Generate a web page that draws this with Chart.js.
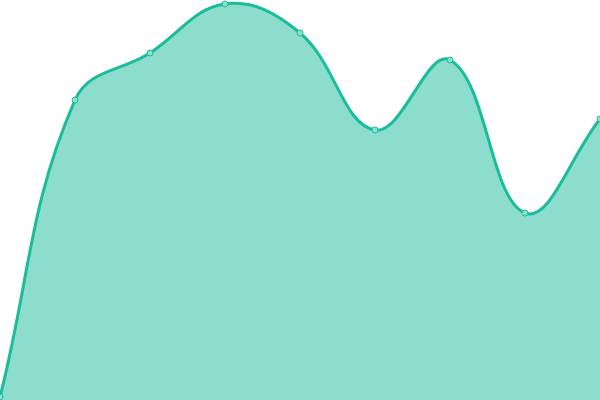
<!DOCTYPE html>
<html><head><meta charset="utf-8">
<script src="https://cdn.jsdelivr.net/npm/chart.js@4"></script>
<style>html,body{margin:0;padding:0;background:#fff}#wrap{width:600px;height:400px}</style>
</head><body><div id="wrap"><canvas id="c"></canvas></div>
<script>
const labels = ["1","2","3","4","5","6","7","8","9"];
const values = [3, 300, 347, 396, 367, 270, 340, 187, 281];
new Chart(document.getElementById('c'), {
  type: 'line',
  data: { labels: labels, datasets: [{
    data: values,
    fill: true,
    tension: 0.4,
    borderColor: '#1abc9c',
    backgroundColor: 'rgba(26,188,156,0.5)',
    borderWidth: 3,
    pointRadius: 3,
    pointBorderWidth: 1,
    pointBackgroundColor: 'rgba(140,224,208,1)',
    pointBorderColor: '#1abc9c'
  }]},
  options: {
    responsive: true, maintainAspectRatio: false, animation: false,
    layout: { padding: 0, autoPadding: false },
    plugins: { legend: { display: false }, tooltip: { enabled: false } },
    scales: {
      x: { display: false, offset: false },
      y: { display: false, min: 0, max: 400 }
    }
  }
});
</script></body></html>
